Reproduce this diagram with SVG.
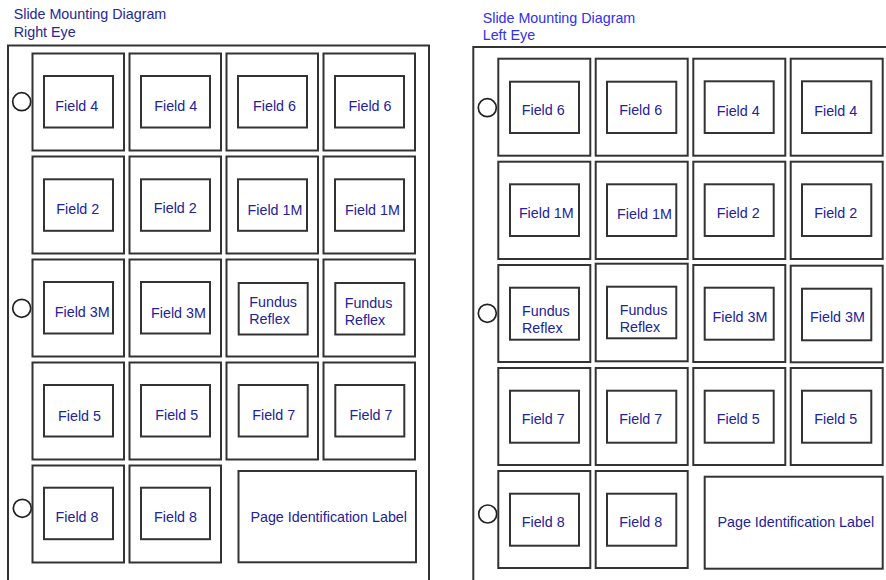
<svg xmlns="http://www.w3.org/2000/svg" width="886" height="580" viewBox="0 0 886 580">
<style>
.page{fill:#fff;stroke:#333;stroke-width:2}
.slot{fill:#fff;stroke:#333;stroke-width:2}
.win{fill:#fff;stroke:#333;stroke-width:2}
.hole{fill:#fff;stroke:#222;stroke-width:1.7}
text{font-family:"Liberation Sans",Arial,sans-serif;font-size:14.3px;fill:#22229a}
.c{text-anchor:middle}
.t1{fill:#262699}
.t2{fill:#3030f0}
</style>
<rect width="886" height="580" fill="#fff"/>
<g id="title-right-eye"><text class="t1" x="13.7" y="18.7">Slide Mounting Diagram</text><text class="t1" x="13.7" y="36.5">Right Eye</text></g>
<g id="title-left-eye"><text class="t2" x="482.7" y="23.3">Slide Mounting Diagram</text><text class="t2" x="482.7" y="39.5">Left Eye</text></g>

<g id="page-right-eye">
<rect class="page" x="8" y="45.5" width="421" height="600"/>
<circle class="hole" cx="21.7" cy="101.7" r="9"/>
<circle class="hole" cx="21.7" cy="308.3" r="9"/>
<circle class="hole" cx="22.3" cy="508.3" r="9"/>
</g>
<g id="page-left-eye">
<rect class="page" x="473.3" y="47" width="500" height="600"/>
<circle class="hole" cx="487.3" cy="107.7" r="9"/>
<circle class="hole" cx="487.3" cy="313.3" r="9"/>
<circle class="hole" cx="487.7" cy="514" r="9"/>
</g>

<!-- Right eye page slides -->
<g id="R-r1c1"><rect class="slot" x="32.5" y="53.5" width="91.5" height="97"/><rect class="win" x="44" y="76" width="69" height="51.5"/><text class="c" x="76.8" y="111.3">Field 4</text></g>
<g id="R-r1c2"><rect class="slot" x="129.5" y="53.5" width="91.5" height="97"/><rect class="win" x="141" y="76" width="69" height="51.5"/><text class="c" x="175.7" y="111.3">Field 4</text></g>
<g id="R-r1c3"><rect class="slot" x="226.5" y="53.5" width="91.5" height="97"/><rect class="win" x="238" y="76" width="69" height="51.5"/><text class="c" x="274.5" y="111.3">Field 6</text></g>
<g id="R-r1c4"><rect class="slot" x="323.5" y="53.5" width="91.5" height="97"/><rect class="win" x="335" y="76" width="69" height="51.5"/><text class="c" x="370" y="111.3">Field 6</text></g>

<g id="R-r2c1"><rect class="slot" x="32.5" y="156.5" width="91.5" height="97"/><rect class="win" x="44" y="179.3" width="69" height="51.5"/><text class="c" x="77.8" y="214.3">Field 2</text></g>
<g id="R-r2c2"><rect class="slot" x="129.5" y="156.5" width="91.5" height="97"/><rect class="win" x="141" y="179.3" width="69" height="51.5"/><text class="c" x="175.3" y="213">Field 2</text></g>
<g id="R-r2c3"><rect class="slot" x="226.5" y="156.5" width="91.5" height="97"/><rect class="win" x="238" y="179.3" width="69" height="51.5"/><text class="c" x="275" y="214.7">Field 1M</text></g>
<g id="R-r2c4"><rect class="slot" x="323.5" y="156.5" width="91.5" height="97"/><rect class="win" x="335" y="179.3" width="69" height="51.5"/><text class="c" x="372.5" y="214.7">Field 1M</text></g>

<g id="R-r3c1"><rect class="slot" x="32.5" y="259.5" width="91.5" height="97"/><rect class="win" x="44" y="282" width="69" height="51.5"/><text class="c" x="82.2" y="316.7">Field 3M</text></g>
<g id="R-r3c2"><rect class="slot" x="129.5" y="259.5" width="91.5" height="97"/><rect class="win" x="141" y="282" width="69" height="51.5"/><text class="c" x="178.5" y="317.7">Field 3M</text></g>
<g id="R-r3c3"><rect class="slot" x="226.5" y="259.5" width="91.5" height="97"/><rect class="win" x="238.7" y="283" width="69" height="51.5"/><text x="249.3" y="307.3">Fundus</text><text x="249.3" y="324">Reflex</text></g>
<g id="R-r3c4"><rect class="slot" x="323.5" y="259.5" width="91.5" height="97"/><rect class="win" x="335.3" y="283" width="69" height="51.5"/><text x="344.7" y="308.3">Fundus</text><text x="344.7" y="325">Reflex</text></g>

<g id="R-r4c1"><rect class="slot" x="32.5" y="362.5" width="91.5" height="97"/><rect class="win" x="44" y="385" width="69" height="51.5"/><text class="c" x="79.5" y="421.3">Field 5</text></g>
<g id="R-r4c2"><rect class="slot" x="129.5" y="362.5" width="91.5" height="97"/><rect class="win" x="141" y="385" width="69" height="51.5"/><text class="c" x="176.7" y="420.3">Field 5</text></g>
<g id="R-r4c3"><rect class="slot" x="226.5" y="362.5" width="91.5" height="97"/><rect class="win" x="238.7" y="385" width="69" height="51.5"/><text class="c" x="273.7" y="420.3">Field 7</text></g>
<g id="R-r4c4"><rect class="slot" x="323.5" y="362.5" width="91.5" height="97"/><rect class="win" x="335.3" y="385" width="69" height="51.5"/><text class="c" x="371" y="420.3">Field 7</text></g>

<g id="R-r5c1"><rect class="slot" x="32.5" y="465.5" width="91.5" height="97"/><rect class="win" x="44" y="487.7" width="69" height="51.5"/><text class="c" x="77" y="521.7">Field 8</text></g>
<g id="R-r5c2"><rect class="slot" x="129.5" y="465.5" width="91.5" height="97"/><rect class="win" x="141" y="487.7" width="69" height="51.5"/><text class="c" x="175.5" y="521.7">Field 8</text></g>
<g id="R-label"><rect class="slot" x="238.5" y="471" width="177.5" height="91.3"/><text class="c" x="328.7" y="521.7">Page Identification Label</text></g>

<!-- Left eye page slides -->
<g id="L-r1c1"><rect class="slot" x="498.3" y="58.7" width="92" height="97"/><rect class="win" x="510" y="81.7" width="69" height="51.3"/><text class="c" x="543.2" y="115.3">Field 6</text></g>
<g id="L-r1c2"><rect class="slot" x="595.7" y="58.7" width="92" height="97"/><rect class="win" x="607" y="81.7" width="69.3" height="51.3"/><text class="c" x="640.7" y="115.3">Field 6</text></g>
<g id="L-r1c3"><rect class="slot" x="693.3" y="58.7" width="92" height="97"/><rect class="win" x="704.7" y="81.3" width="69" height="51.7"/><text class="c" x="738.2" y="115.7">Field 4</text></g>
<g id="L-r1c4"><rect class="slot" x="790.7" y="58.7" width="92" height="97"/><rect class="win" x="802" y="81.3" width="69.3" height="51.7"/><text class="c" x="835.7" y="115.7">Field 4</text></g>

<g id="L-r2c1"><rect class="slot" x="498.3" y="161.7" width="92" height="97.3"/><rect class="win" x="510" y="184.3" width="69" height="51.7"/><text class="c" x="546.3" y="218.3">Field 1M</text></g>
<g id="L-r2c2"><rect class="slot" x="595.7" y="161.7" width="92" height="97.3"/><rect class="win" x="607" y="184.3" width="69.3" height="51.7"/><text class="c" x="644.5" y="219.3">Field 1M</text></g>
<g id="L-r2c3"><rect class="slot" x="693.3" y="161.7" width="92" height="97.3"/><rect class="win" x="704.7" y="184.3" width="69" height="51.7"/><text class="c" x="738.2" y="218">Field 2</text></g>
<g id="L-r2c4"><rect class="slot" x="790.7" y="161.7" width="92" height="97.3"/><rect class="win" x="802" y="184.3" width="69.3" height="51.7"/><text class="c" x="835.7" y="218">Field 2</text></g>

<g id="L-r3c1"><rect class="slot" x="498.3" y="265" width="92" height="97"/><rect class="win" x="510" y="287.7" width="69" height="52"/><text x="522" y="316.3">Fundus</text><text x="522" y="333.3">Reflex</text></g>
<g id="L-r3c2"><rect class="slot" x="595.7" y="263.7" width="92" height="97.6"/><rect class="win" x="607" y="286.7" width="69.3" height="51.6"/><text x="619.7" y="315.3">Fundus</text><text x="619.7" y="332.3">Reflex</text></g>
<g id="L-r3c3"><rect class="slot" x="693.3" y="265" width="92" height="97"/><rect class="win" x="704.7" y="287.7" width="69" height="52"/><text class="c" x="740" y="321.7">Field 3M</text></g>
<g id="L-r3c4"><rect class="slot" x="790.7" y="265.7" width="92" height="96.6"/><rect class="win" x="802" y="288.7" width="69.3" height="51.6"/><text class="c" x="837.5" y="321.7">Field 3M</text></g>

<g id="L-r4c1"><rect class="slot" x="498.3" y="368" width="92" height="97"/><rect class="win" x="510" y="390.7" width="69" height="52"/><text class="c" x="543.2" y="424.3">Field 7</text></g>
<g id="L-r4c2"><rect class="slot" x="595.7" y="368" width="92" height="97"/><rect class="win" x="607" y="390.7" width="69.3" height="52"/><text class="c" x="640.8" y="424.3">Field 7</text></g>
<g id="L-r4c3"><rect class="slot" x="693.3" y="368" width="92" height="97"/><rect class="win" x="704.7" y="390.7" width="69" height="52"/><text class="c" x="738.2" y="424.3">Field 5</text></g>
<g id="L-r4c4"><rect class="slot" x="790.7" y="368" width="92" height="97"/><rect class="win" x="802" y="390.7" width="69.3" height="52"/><text class="c" x="835.7" y="424.3">Field 5</text></g>

<g id="L-r5c1"><rect class="slot" x="498.3" y="471" width="92" height="97"/><rect class="win" x="510" y="493.7" width="69" height="52"/><text class="c" x="543.2" y="527.3">Field 8</text></g>
<g id="L-r5c2"><rect class="slot" x="595.7" y="471" width="92" height="97"/><rect class="win" x="607" y="493.7" width="69.3" height="52"/><text class="c" x="640.8" y="527.3">Field 8</text></g>
<g id="L-label"><rect class="slot" x="704.7" y="476.7" width="178" height="92"/><text class="c" x="795.8" y="527.3">Page Identification Label</text></g>

<g id="connectors"></g>
</svg>
